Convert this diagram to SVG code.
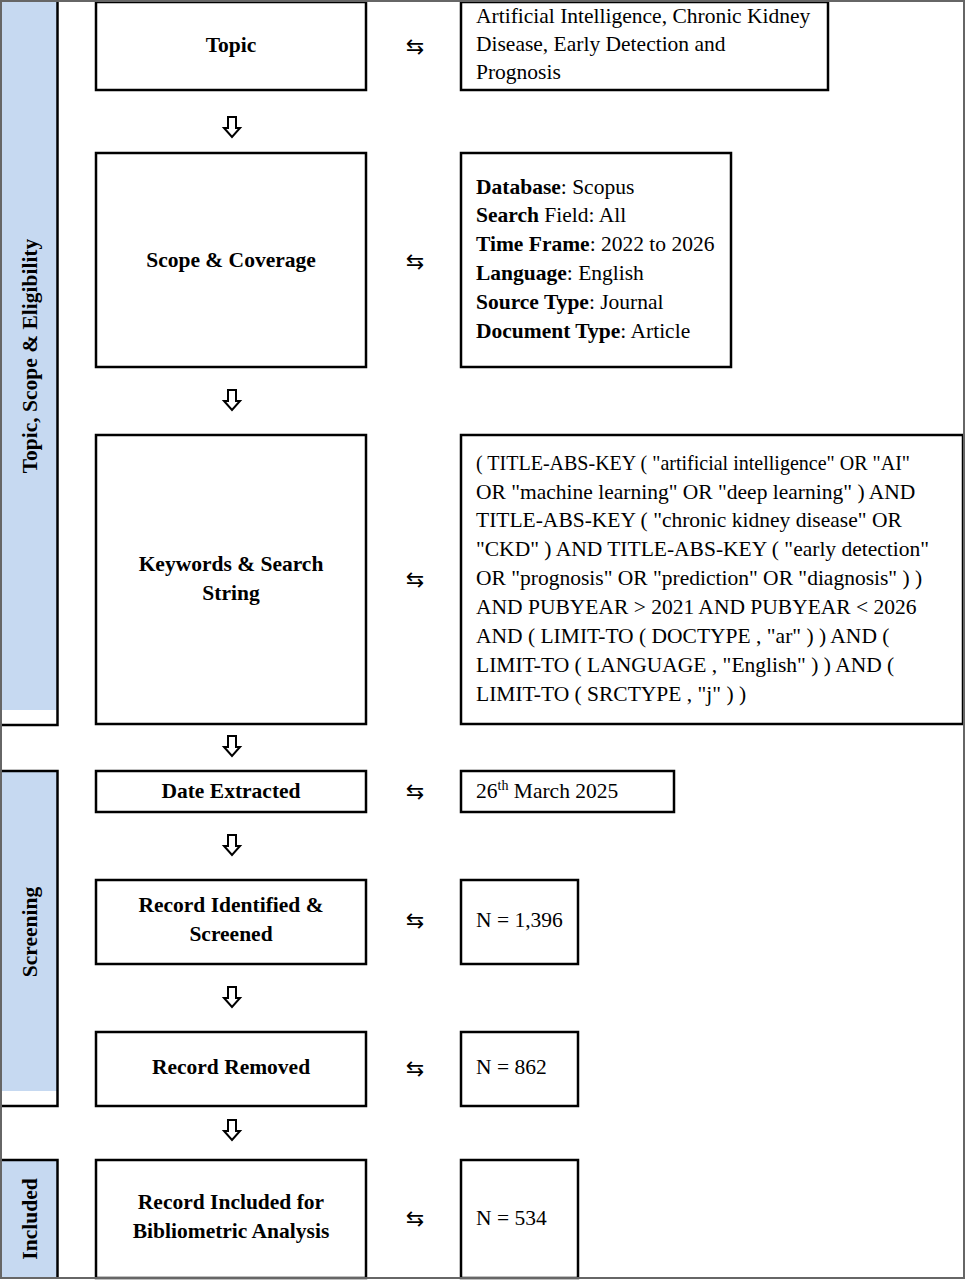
<svg xmlns="http://www.w3.org/2000/svg" width="966" height="1280" viewBox="0 0 966 1280">
<style>
.box{fill:#fff;stroke:#000;stroke-width:2.5}
.pfill{fill:#c6d9f1}
.pline{fill:none;stroke:#000;stroke-width:2.5}
.t{font-family:"Liberation Serif","Times New Roman",serif;font-size:21.5px;fill:#000}
.b{font-weight:bold}
.c{text-anchor:middle}
.arr{fill:#fff;stroke:#000;stroke-width:2;stroke-linejoin:miter}
.sym{font-family:"DejaVu Sans",sans-serif;font-size:22px;text-anchor:middle;fill:#000}
</style>
<rect x="0" y="0" width="966" height="1280" fill="#fff"/>

<g id="panel-topic">
<rect class="pfill" x="2" y="2" width="55" height="708"/>
<path class="pline" d="M2,725 H57.5 V2"/>
<text class="t b c" transform="translate(37,356) rotate(-90)">Topic, Scope &amp; Eligibility</text>
</g>
<g id="panel-screening">
<rect class="pfill" x="2" y="771" width="55" height="320"/>
<path class="pline" d="M2,771 H57.5 V1106 H2"/>
<text class="t b c" transform="translate(37,932) rotate(-90)">Screening</text>
</g>
<g id="panel-included">
<rect class="pfill" x="2" y="1160" width="55" height="118"/>
<path class="pline" d="M2,1160 H57.5 V1278"/>
<text class="t b c" transform="translate(37,1219) rotate(-90)">Included</text>
</g>

<g id="node-topic">
<rect class="box" x="96" y="2" width="270" height="88"/>
<text class="t b c" x="231" y="52">Topic</text>
</g>
<g id="node-topic-detail">
<rect class="box" x="461" y="2" width="367" height="88"/>
<text class="t" x="476" y="23">Artificial Intelligence, Chronic Kidney</text>
<text class="t" x="476" y="51">Disease, Early Detection and</text>
<text class="t" x="476" y="79">Prognosis</text>
</g>

<g id="node-scope">
<rect class="box" x="96" y="153" width="270" height="214"/>
<text class="t b c" x="231" y="267">Scope &amp; Coverage</text>
</g>
<g id="node-scope-detail">
<rect class="box" x="461" y="153" width="270" height="214"/>
<text class="t" x="476" y="194"><tspan class="b">Database</tspan>: Scopus</text>
<text class="t" x="476" y="222"><tspan class="b">Search</tspan> Field: All</text>
<text class="t" x="476" y="251"><tspan class="b">Time Frame</tspan>: 2022 to 2026</text>
<text class="t" x="476" y="280"><tspan class="b">Language</tspan>: English</text>
<text class="t" x="476" y="309"><tspan class="b">Source Type</tspan>: Journal</text>
<text class="t" x="476" y="338"><tspan class="b">Document Type</tspan>: Article</text>
</g>

<g id="node-keywords">
<rect class="box" x="96" y="435" width="270" height="289"/>
<text class="t b c" x="231" y="571">Keywords &amp; Search</text>
<text class="t b c" x="231" y="600">String</text>
</g>
<g id="node-keywords-detail">
<rect class="box" x="461" y="435" width="502" height="289"/>
<text class="t" x="476" y="470" textLength="434" lengthAdjust="spacingAndGlyphs">( TITLE-ABS-KEY ( "artificial intelligence" OR "AI"</text>
<text class="t" x="476" y="499">OR "machine learning" OR "deep learning" ) AND</text>
<text class="t" x="476" y="527">TITLE-ABS-KEY ( "chronic kidney disease" OR</text>
<text class="t" x="476" y="556">"CKD" ) AND TITLE-ABS-KEY ( "early detection"</text>
<text class="t" x="476" y="585">OR "prognosis" OR "prediction" OR "diagnosis" ) )</text>
<text class="t" x="476" y="614">AND PUBYEAR &gt; 2021 AND PUBYEAR &lt; 2026</text>
<text class="t" x="476" y="643">AND ( LIMIT-TO ( DOCTYPE , "ar" ) ) AND (</text>
<text class="t" x="476" y="672">LIMIT-TO ( LANGUAGE , "English" ) ) AND (</text>
<text class="t" x="476" y="701">LIMIT-TO ( SRCTYPE , "j" ) )</text>
</g>

<g id="node-date">
<rect class="box" x="96" y="771" width="270" height="41"/>
<text class="t b c" x="231" y="798">Date Extracted</text>
</g>
<g id="node-date-detail">
<rect class="box" x="461" y="771" width="213" height="41"/>
<text class="t" x="476" y="798">26<tspan font-size="14" dy="-8">th</tspan><tspan dy="8"> March 2025</tspan></text>
</g>

<g id="node-identified">
<rect class="box" x="96" y="880" width="270" height="84"/>
<text class="t b c" x="231" y="912">Record Identified &amp;</text>
<text class="t b c" x="231" y="941">Screened</text>
</g>
<g id="node-identified-detail">
<rect class="box" x="461" y="880" width="117" height="84"/>
<text class="t" x="476" y="927">N = 1,396</text>
</g>

<g id="node-removed">
<rect class="box" x="96" y="1032" width="270" height="74"/>
<text class="t b c" x="231" y="1074">Record Removed</text>
</g>
<g id="node-removed-detail">
<rect class="box" x="461" y="1032" width="117" height="74"/>
<text class="t" x="476" y="1074">N = 862</text>
</g>

<g id="node-included">
<rect class="box" x="96" y="1160" width="270" height="118"/>
<text class="t b c" x="231" y="1209">Record Included for</text>
<text class="t b c" x="231" y="1238">Bibliometric Analysis</text>
</g>
<g id="node-included-detail">
<rect class="box" x="461" y="1160" width="117" height="118"/>
<text class="t" x="476" y="1225">N = 534</text>
</g>

<g id="connectors">
<path class="arr" d="M228,117 H236 V128 H240 L232,137 L224,128 H228 Z"/>
<path class="arr" d="M228,390 H236 V401 H240 L232,410 L224,401 H228 Z"/>
<path class="arr" d="M228,736 H236 V747 H240 L232,756 L224,747 H228 Z"/>
<path class="arr" d="M228,835 H236 V846 H240 L232,855 L224,846 H228 Z"/>
<path class="arr" d="M228,987 H236 V998 H240 L232,1007 L224,998 H228 Z"/>
<path class="arr" d="M228,1120 H236 V1131 H240 L232,1140 L224,1131 H228 Z"/>
<text class="sym" x="415" y="54">⇆</text>
<text class="sym" x="415" y="269">⇆</text>
<text class="sym" x="415" y="587">⇆</text>
<text class="sym" x="415" y="799">⇆</text>
<text class="sym" x="415" y="928">⇆</text>
<text class="sym" x="415" y="1076">⇆</text>
<text class="sym" x="415" y="1226">⇆</text>
</g>

<rect x="1" y="1" width="963" height="1277" fill="none" stroke="#666" stroke-width="2"/>
</svg>
